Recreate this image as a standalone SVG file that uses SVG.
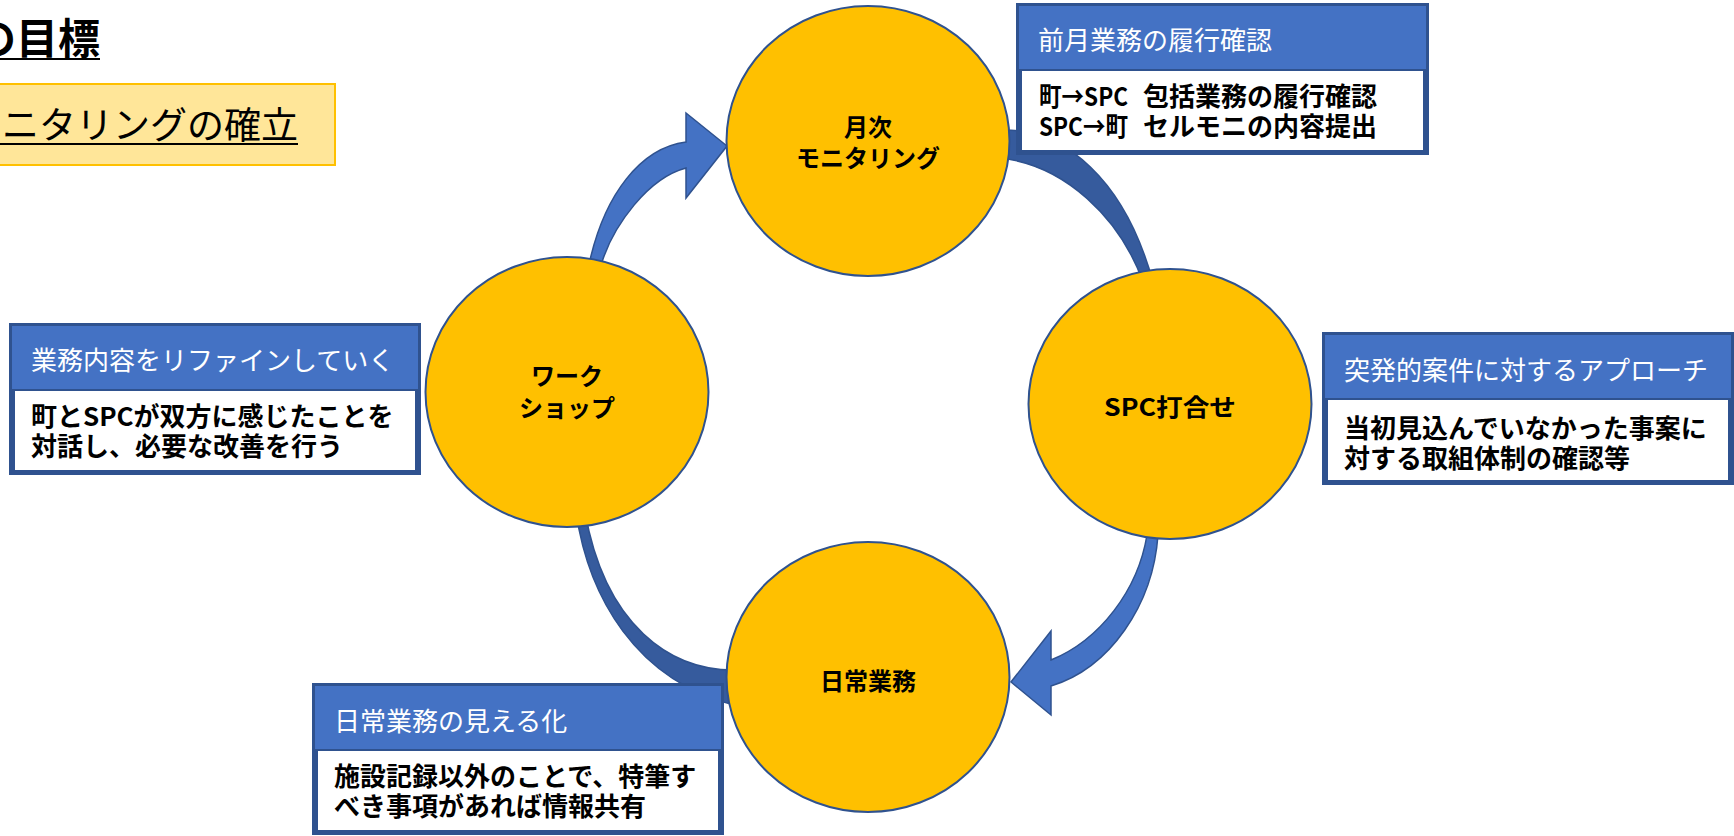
<svg xmlns="http://www.w3.org/2000/svg" width="1734" height="836" viewBox="0 0 1734 836">
<style>
.circle{fill:#FFC000;stroke:#2F528F;stroke-width:2}
.arrow{fill:#4472C4;stroke:#2F528F;stroke-width:1.5;stroke-linejoin:miter}
.band{fill:#365B9D;stroke:#2F528F;stroke-width:1.5}
.frame{fill:#2F528F}
.head{fill:#4472C4}
.bodyr{fill:#FFFFFF}
text{font-family:'Noto Sans CJK JP','Noto Sans',sans-serif}
.ht{font-size:26px;fill:#FFFFFF}
.bt{font-size:26px;font-weight:bold;fill:#000000}
.cl{font-size:24px;font-weight:bold;fill:#000000;text-anchor:middle}
</style>
<rect width="1734" height="836" fill="#FFFFFF"/>

<g id="title">
  <text x="100" y="54" text-anchor="end" style="font-size:42px;font-weight:bold">の目標</text>
  <line x1="0" y1="59" x2="100" y2="59" stroke="#000" stroke-width="2"/>
</g>
<g id="goal">
  <rect x="-2" y="84" width="337" height="81" fill="#FFE699" stroke="#FFC000" stroke-width="2"/>
  <text x="298" y="139" text-anchor="end" style="font-size:37px">ニタリングの確立</text>
  <line x1="0" y1="144" x2="298" y2="144" stroke="#000" stroke-width="2"/>
</g>

<g id="connectors">
  <path class="band" d="M1000,130 C1065,128 1125,180 1153,282 L1143,282 C1120,218 1065,165 1000,158 Z"/>
  <path class="band" d="M738,670 C670,672 605,625 585,512 L576,512 C588,595 635,682 738,706 Z"/>
  <path class="arrow" d="M588,280 L590,260 C605,195 640,148 686,142 L686,113 L727,146 L686,198 L686,168 C648,178 614,225 602,262 L604,282 Z"/>
  <path class="arrow" d="M1146,522 L1147,535 C1138,590 1100,640 1051,660 L1051,631 L1011,682 L1051,715 L1051,686 C1110,668 1153,605 1158,535 L1159,522 Z"/>
</g>

<g id="node-monthly">
  <ellipse class="circle" cx="868" cy="141" rx="141.5" ry="135"/>
  <text class="cl" x="868" y="136">月次</text>
  <text class="cl" x="868" y="167">モニタリング</text>
</g>
<g id="node-workshop">
  <ellipse class="circle" cx="567" cy="392" rx="141.5" ry="135"/>
  <text class="cl" x="567" y="385">ワーク</text>
  <text class="cl" x="567" y="417">ショップ</text>
</g>
<g id="node-spc">
  <ellipse class="circle" cx="1170" cy="404" rx="141.5" ry="135"/>
  <text class="cl" x="1170" y="416" textLength="132" lengthAdjust="spacingAndGlyphs">SPC打合せ</text>
</g>
<g id="node-daily">
  <ellipse class="circle" cx="868" cy="677" rx="141.5" ry="135"/>
  <text class="cl" x="868" y="690">日常業務</text>
</g>

<g id="box-monthly">
  <rect class="frame" x="1016" y="3" width="413" height="152"/>
  <rect class="head" x="1019" y="6" width="407" height="63"/>
  <rect class="bodyr" x="1022" y="71" width="401" height="79"/>
  <text class="ht" x="1038" y="50">前月業務の履行確認</text>
  <text class="bt" x="1039" y="106" textLength="89" lengthAdjust="spacingAndGlyphs">町→SPC</text>
  <text class="bt" x="1143" y="106">包括業務の履行確認</text>
  <text class="bt" x="1039" y="136" textLength="89" lengthAdjust="spacingAndGlyphs">SPC→町</text>
  <text class="bt" x="1143" y="136">セルモニの内容提出</text>
</g>
<g id="box-workshop">
  <rect class="frame" x="9" y="323" width="412" height="152"/>
  <rect class="head" x="12" y="326" width="406" height="63"/>
  <rect class="bodyr" x="15" y="391" width="400" height="79"/>
  <text class="ht" x="31" y="370">業務内容をリファインしていく</text>
  <text class="bt" x="31" y="426">町とSPCが双方に感じたことを</text>
  <text class="bt" x="31" y="456">対話し、必要な改善を行う</text>
</g>
<g id="box-spc">
  <rect class="frame" x="1322" y="332" width="412" height="153"/>
  <rect class="head" x="1325" y="335" width="406" height="63"/>
  <rect class="bodyr" x="1328" y="400" width="400" height="80"/>
  <text class="ht" x="1344" y="380">突発的案件に対するアプローチ</text>
  <text class="bt" x="1344" y="438">当初見込んでいなかった事案に</text>
  <text class="bt" x="1344" y="468">対する取組体制の確認等</text>
</g>
<g id="box-daily">
  <rect class="frame" x="312" y="683" width="412" height="152"/>
  <rect class="head" x="315" y="686" width="406" height="63"/>
  <rect class="bodyr" x="318" y="751" width="400" height="79"/>
  <text class="ht" x="334" y="731">日常業務の見える化</text>
  <text class="bt" x="334" y="786">施設記録以外のことで、特筆す</text>
  <text class="bt" x="334" y="816">べき事項があれば情報共有</text>
</g>
</svg>
